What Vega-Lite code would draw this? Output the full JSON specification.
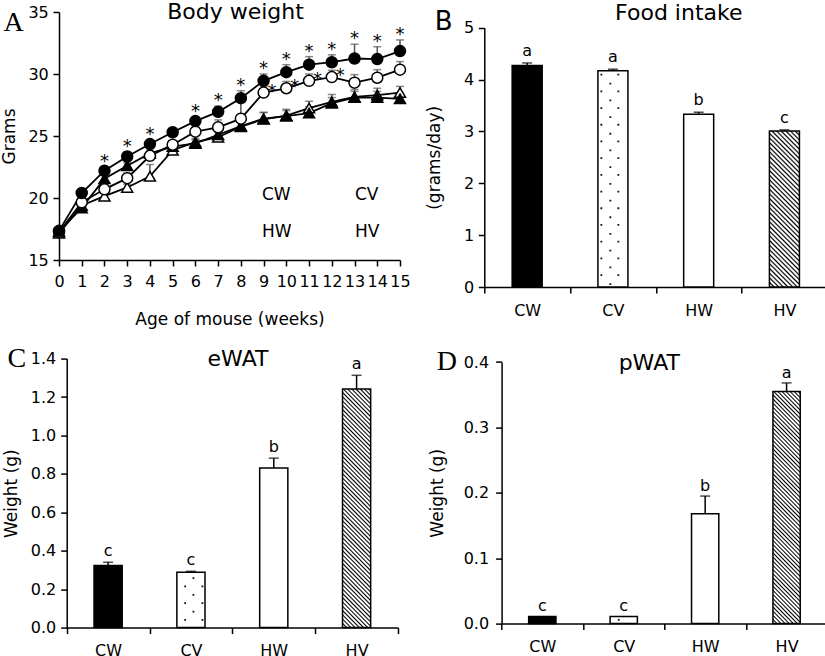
{
"$schema": "https://vega.github.io/schema/vega-lite/v6.json",
"background": "white",
"padding": {"left": 0, "top": 0, "right": 0, "bottom": 0},
"columns": 2,
"spacing": {"column": 14.3, "row": 16.6},
"concat": [
{
"width": 341, "height": 248,
"data": {"values": [
{"week":0,"group":"CW","value":17.15,"upper":17.4},{"week":0,"group":"CV","value":17.3,"upper":17.5},{"week":0,"group":"HW","value":17.25,"upper":17.5},{"week":0,"group":"HV","value":17.35,"upper":17.6},
{"week":1,"group":"CW","value":19.4,"upper":19.6},{"week":1,"group":"CV","value":19.2,"upper":19.4},{"week":1,"group":"HW","value":19.65,"upper":19.9},{"week":1,"group":"HV","value":20.4,"upper":20.65},
{"week":2,"group":"CW","value":20.15,"upper":20.4},{"week":2,"group":"CV","value":21.55,"upper":21.8},{"week":2,"group":"HW","value":20.7,"upper":21.0},{"week":2,"group":"HV","value":22.2,"upper":22.5,"star":1},
{"week":3,"group":"CW","value":20.85,"upper":21.1},{"week":3,"group":"CV","value":22.6,"upper":22.85},{"week":3,"group":"HW","value":21.6,"upper":22.0},{"week":3,"group":"HV","value":23.35,"upper":23.7,"star":1},
{"week":4,"group":"CW","value":21.75,"upper":22.7},{"week":4,"group":"CV","value":23.6,"upper":23.85},{"week":4,"group":"HW","value":23.4,"upper":23.7},{"week":4,"group":"HV","value":24.35,"upper":24.65,"star":1},
{"week":5,"group":"CW","value":23.85,"upper":24.1},{"week":5,"group":"CV","value":24.15,"upper":24.4},{"week":5,"group":"HW","value":24.3,"upper":24.6},{"week":5,"group":"HV","value":25.3,"upper":25.55},
{"week":6,"group":"CW","value":24.5,"upper":24.8},{"week":6,"group":"CV","value":24.4,"upper":24.7},{"week":6,"group":"HW","value":25.35,"upper":25.7},{"week":6,"group":"HV","value":26.2,"upper":26.5,"star":1},
{"week":7,"group":"CW","value":24.9,"upper":25.3},{"week":7,"group":"CV","value":25.1,"upper":25.4},{"week":7,"group":"HW","value":25.7,"upper":26.3},{"week":7,"group":"HV","value":26.95,"upper":27.4,"star":1},
{"week":8,"group":"CW","value":25.75,"upper":26.1},{"week":8,"group":"CV","value":25.8,"upper":26.1},{"week":8,"group":"HW","value":26.4,"upper":27.7},{"week":8,"group":"HV","value":28.05,"upper":28.65,"star":1},
{"week":9,"group":"CW","value":26.35,"upper":26.9},{"week":9,"group":"CV","value":26.4,"upper":26.9},{"week":9,"group":"HW","value":28.5,"upper":29.0,"star":1},{"week":9,"group":"HV","value":29.45,"upper":30.0,"star":1},
{"week":10,"group":"CW","value":26.65,"upper":27.15},{"week":10,"group":"CV","value":26.6,"upper":27.05},{"week":10,"group":"HW","value":28.85,"upper":29.4,"star":1},{"week":10,"group":"HV","value":30.15,"upper":30.75,"star":1},
{"week":11,"group":"CW","value":27.25,"upper":27.8},{"week":11,"group":"CV","value":26.85,"upper":27.35},{"week":11,"group":"HW","value":29.45,"upper":30.0,"star":1},{"week":11,"group":"HV","value":30.75,"upper":31.4,"star":1},
{"week":12,"group":"CW","value":27.75,"upper":28.35},{"week":12,"group":"CV","value":27.65,"upper":28.1},{"week":12,"group":"HW","value":29.75,"upper":30.3,"star":1},{"week":12,"group":"HV","value":30.95,"upper":31.55,"star":1},
{"week":13,"group":"CW","value":28.15,"upper":28.75},{"week":13,"group":"CV","value":28.1,"upper":28.6},{"week":13,"group":"HW","value":29.3,"upper":29.95},{"week":13,"group":"HV","value":31.25,"upper":32.4,"star":1},
{"week":14,"group":"CW","value":28.3,"upper":28.85},{"week":14,"group":"CV","value":28.1,"upper":28.6},{"week":14,"group":"HW","value":29.7,"upper":30.35},{"week":14,"group":"HV","value":31.2,"upper":32.2,"star":1},
{"week":15,"group":"CW","value":28.5,"upper":29.0},{"week":15,"group":"CV","value":28.0,"upper":28.4},{"week":15,"group":"HW","value":30.35,"upper":31.0},{"week":15,"group":"HV","value":31.85,"upper":32.75,"star":1}
]},
"layer": [
{"mark": {"type": "rule", "color": "#555", "strokeWidth": 1.5},
 "encoding": {
  "x": {"field": "week", "type": "quantitative", "scale": {"domain": [0, 15], "nice": false, "zero": false}, "axis": null},
  "y": {"field": "value", "type": "quantitative", "scale": {"domain": [15, 35], "nice": false, "zero": false}, "title": "Grams"},
  "y2": {"field": "upper"}}},
{"mark": {"type": "tick", "orient": "horizontal", "color": "#555", "size": 8, "thickness": 1.5},
 "encoding": {
  "x": {"field": "week", "type": "quantitative", "scale": {"domain": [0, 15], "nice": false, "zero": false}, "axis": null},
  "y": {"field": "upper", "type": "quantitative", "scale": {"domain": [15, 35], "nice": false, "zero": false}, "title": "Grams"}}},
{"mark": {"type": "line", "color": "black", "strokeWidth": 1.8},
 "encoding": {
  "x": {"field": "week", "type": "quantitative", "scale": {"domain": [0, 15], "nice": false, "zero": false}, "title": "Age of mouse (weeks)",
        "axis": {"values": [0,1,2,3,4,5,6,7,8,9,10,11,12,13,14,15], "tickCount": 20, "format": "d", "labelPadding": 7.5, "titlePadding": 21.5, "labelOverlap": false}},
  "y": {"field": "value", "type": "quantitative", "scale": {"domain": [15, 35], "nice": false, "zero": false}, "title": "Grams",
        "axis": {"values": [15, 20, 25, 30, 35], "tickCount": 10, "format": "d", "labelPadding": 4.7, "titlePadding": 9, "labelOverlap": false}},
  "detail": {"field": "group"}}},
{"mark": {"type": "point", "size": 121, "stroke": "black", "strokeWidth": 1.5, "opacity": 1},
 "encoding": {
  "x": {"field": "week", "type": "quantitative", "scale": {"domain": [0, 15], "nice": false, "zero": false}, "axis": null},
  "y": {"field": "value", "type": "quantitative", "scale": {"domain": [15, 35], "nice": false, "zero": false}, "title": "Grams"},
  "shape": {"field": "group", "type": "nominal", "scale": {"domain": ["CW","CV","HW","HV"], "range": ["triangle-up","triangle-up","circle","circle"]},
   "legend": {"orient": "bottom-right", "offset": 20, "columns": 2, "direction": "horizontal", "title": null, "symbolSize": 121, "symbolStrokeWidth": 1.5, "symbolStrokeColor": "black",
     "labelFontSize": 17, "labelFont": "DejaVu Sans", "labelColor": "black", "labelOffset": 22, "columnPadding": 24, "rowPadding": 19, "padding": 0,
     "encode": {"symbols": {
       "shape": {"condition": {"test": "datum.value === 'CW' || datum.value === 'CV'", "value": "M-3.9,0L-0.5,0M0.5,0L3.9,0M0,-0.866L-1,0.866L1,0.866Z"}, "value": "M-3.9,0L-1,0M1,0L3.9,0M-1,0A1,1,0,1,1,1,0A1,1,0,1,1,-1,0Z"},
       "fill": {"condition": {"test": "datum.value === 'CW' || datum.value === 'HW'", "value": "white"}, "value": "black"},
       "stroke": {"value": "black"}, "strokeWidth": {"value": 1.5}, "opacity": {"value": 1}}}}},
  "fill": {"condition": {"test": "datum.group === 'CV' || datum.group === 'HV'", "value": "black"}, "value": "white"}}},
{"transform": [{"filter": "datum.group === 'HV' && datum.star === 1"}],
 "mark": {"type": "text", "text": "*", "fontSize": 18, "baseline": "alphabetic", "dy": 0, "color": "black", "fill": "black"},
 "encoding": {
  "x": {"field": "week", "type": "quantitative", "scale": {"domain": [0, 15], "nice": false, "zero": false},
        "axis": {"orient": "top", "title": "A", "domain": false, "ticks": false, "labels": false, "titleFont": "Liberation Serif", "titleFontSize": 28, "titleFontWeight": "normal", "titleAngle": 0, "titleAlign": "left", "titleBaseline": "alphabetic", "titleX": -56, "titleY": 18}},
  "y": {"field": "upper", "type": "quantitative", "scale": {"domain": [15, 35], "nice": false, "zero": false}, "title": "Grams"}}},
{"transform": [{"filter": "datum.group === 'HW' && datum.star === 1"}],
 "mark": {"type": "text", "text": "*", "fontSize": 18, "baseline": "alphabetic", "dx": 8.5, "dy": 4, "color": "black", "fill": "black"},
 "encoding": {
  "x": {"field": "week", "type": "quantitative", "scale": {"domain": [0, 15], "nice": false, "zero": false},
        "axis": {"orient": "top", "title": "Body weight", "domain": false, "ticks": false, "labels": false, "titleFont": "DejaVu Sans", "titleFontSize": 22, "titleFontWeight": "normal", "titleAngle": 0, "titleAlign": "center", "titleBaseline": "alphabetic", "titleX": 176, "titleY": 6}},
  "y": {"field": "value", "type": "quantitative", "scale": {"domain": [15, 35], "nice": false, "zero": false}, "title": "Grams"}}}
],
"resolve": {"axis": {"x": "independent"}}
},
{
"width": 343, "height": 275,
"data": {"values": [
{"group":"CW","value":4.27,"upper":4.32,"sig":"a"},
{"group":"CV","value":4.17,"upper":4.2,"sig":"a"},
{"group":"HW","value":3.33,"upper":3.37,"sig":"b"},
{"group":"HV","value":3.01,"upper":3.03,"sig":"c"}
]},
"layer": [
{"mark": {"type": "bar", "width": {"band": 0.35}, "stroke": "black", "strokeWidth": 1.5},
 "encoding": {
  "x": {"field": "group", "type": "nominal", "scale": {"domain": ["CW","CV","HW","HV"], "paddingInner": 0, "paddingOuter": 0},
        "axis": {"title": null, "tickBand": "extent", "labelAngle": 0, "labelPadding": 9, "labelOverlap": false}},
  "y": {"field": "value", "type": "quantitative", "scale": {"domain": [0, 5], "range": [275, 15.7], "nice": false}, "title": "(grams/day)",
        "axis": {"values": [0,1,2,3,4,5], "tickCount": 10, "format": "d", "labelPadding": 4.7, "titlePadding": 20, "labelOverlap": false}},
  "fill": {"condition": [
    {"test": "datum.group === 'CW'", "value": "black"},
    {"test": "datum.group === 'HV'", "value": {"gradient": "linear", "x1": 0, "y1": 1, "x2": 0.2219, "y2": -0.1516, "stops": [
{"offset":0,"color":"#000"},{"offset":0.009,"color":"#fff"},{"offset":0.016,"color":"#fff"},
{"offset":0.025,"color":"#000"},{"offset":0.034,"color":"#fff"},{"offset":0.041,"color":"#fff"},
{"offset":0.05,"color":"#000"},{"offset":0.059,"color":"#fff"},{"offset":0.066,"color":"#fff"},
{"offset":0.075,"color":"#000"},{"offset":0.084,"color":"#fff"},{"offset":0.091,"color":"#fff"},
{"offset":0.1,"color":"#000"},{"offset":0.109,"color":"#fff"},{"offset":0.116,"color":"#fff"},
{"offset":0.125,"color":"#000"},{"offset":0.134,"color":"#fff"},{"offset":0.141,"color":"#fff"},
{"offset":0.15,"color":"#000"},{"offset":0.159,"color":"#fff"},{"offset":0.166,"color":"#fff"},
{"offset":0.175,"color":"#000"},{"offset":0.184,"color":"#fff"},{"offset":0.191,"color":"#fff"},
{"offset":0.2,"color":"#000"},{"offset":0.209,"color":"#fff"},{"offset":0.216,"color":"#fff"},
{"offset":0.225,"color":"#000"},{"offset":0.234,"color":"#fff"},{"offset":0.241,"color":"#fff"},
{"offset":0.25,"color":"#000"},{"offset":0.259,"color":"#fff"},{"offset":0.266,"color":"#fff"},
{"offset":0.275,"color":"#000"},{"offset":0.284,"color":"#fff"},{"offset":0.291,"color":"#fff"},
{"offset":0.3,"color":"#000"},{"offset":0.309,"color":"#fff"},{"offset":0.316,"color":"#fff"},
{"offset":0.325,"color":"#000"},{"offset":0.334,"color":"#fff"},{"offset":0.341,"color":"#fff"},
{"offset":0.35,"color":"#000"},{"offset":0.359,"color":"#fff"},{"offset":0.366,"color":"#fff"},
{"offset":0.375,"color":"#000"},{"offset":0.384,"color":"#fff"},{"offset":0.391,"color":"#fff"},
{"offset":0.4,"color":"#000"},{"offset":0.409,"color":"#fff"},{"offset":0.416,"color":"#fff"},
{"offset":0.425,"color":"#000"},{"offset":0.434,"color":"#fff"},{"offset":0.441,"color":"#fff"},
{"offset":0.45,"color":"#000"},{"offset":0.459,"color":"#fff"},{"offset":0.466,"color":"#fff"},
{"offset":0.475,"color":"#000"},{"offset":0.484,"color":"#fff"},{"offset":0.491,"color":"#fff"},
{"offset":0.5,"color":"#000"},{"offset":0.509,"color":"#fff"},{"offset":0.516,"color":"#fff"},
{"offset":0.525,"color":"#000"},{"offset":0.534,"color":"#fff"},{"offset":0.541,"color":"#fff"},
{"offset":0.55,"color":"#000"},{"offset":0.559,"color":"#fff"},{"offset":0.566,"color":"#fff"},
{"offset":0.575,"color":"#000"},{"offset":0.584,"color":"#fff"},{"offset":0.591,"color":"#fff"},
{"offset":0.6,"color":"#000"},{"offset":0.609,"color":"#fff"},{"offset":0.616,"color":"#fff"},
{"offset":0.625,"color":"#000"},{"offset":0.634,"color":"#fff"},{"offset":0.641,"color":"#fff"},
{"offset":0.65,"color":"#000"},{"offset":0.659,"color":"#fff"},{"offset":0.666,"color":"#fff"},
{"offset":0.675,"color":"#000"},{"offset":0.684,"color":"#fff"},{"offset":0.691,"color":"#fff"},
{"offset":0.7,"color":"#000"},{"offset":0.709,"color":"#fff"},{"offset":0.716,"color":"#fff"},
{"offset":0.725,"color":"#000"},{"offset":0.734,"color":"#fff"},{"offset":0.741,"color":"#fff"},
{"offset":0.75,"color":"#000"},{"offset":0.759,"color":"#fff"},{"offset":0.766,"color":"#fff"},
{"offset":0.775,"color":"#000"},{"offset":0.784,"color":"#fff"},{"offset":0.791,"color":"#fff"},
{"offset":0.8,"color":"#000"},{"offset":0.809,"color":"#fff"},{"offset":0.816,"color":"#fff"},
{"offset":0.825,"color":"#000"},{"offset":0.834,"color":"#fff"},{"offset":0.841,"color":"#fff"},
{"offset":0.85,"color":"#000"},{"offset":0.859,"color":"#fff"},{"offset":0.866,"color":"#fff"},
{"offset":0.875,"color":"#000"},{"offset":0.884,"color":"#fff"},{"offset":0.891,"color":"#fff"},
{"offset":0.9,"color":"#000"},{"offset":0.909,"color":"#fff"},{"offset":0.916,"color":"#fff"},
{"offset":0.925,"color":"#000"},{"offset":0.934,"color":"#fff"},{"offset":0.941,"color":"#fff"},
{"offset":0.95,"color":"#000"},{"offset":0.959,"color":"#fff"},{"offset":0.966,"color":"#fff"},
{"offset":0.975,"color":"#000"},{"offset":0.984,"color":"#fff"},{"offset":0.991,"color":"#fff"},
{"offset":1,"color":"#000"}]}}],
   "value": "white"}}},
{"transform": [{"filter": "datum.group === 'CV'"}],
 "mark": {"type": "rule", "color": "#111", "strokeWidth": 1.8, "strokeDash": [1.8, 14.9], "strokeDashOffset": 13.7, "xOffset": -11.6},
 "encoding": {
  "x": {"field": "group", "type": "nominal", "scale": {"domain": ["CW","CV","HW","HV"], "paddingInner": 0, "paddingOuter": 0}, "axis": null},
  "y": {"field": "value", "type": "quantitative", "scale": {"domain": [0, 5], "range": [275, 15.7], "nice": false}, "title": "(grams/day)"},
  "y2": {"datum": 0}}},
{"transform": [{"filter": "datum.group === 'CV'"}],
 "mark": {"type": "rule", "color": "#111", "strokeWidth": 1.8, "strokeDash": [1.8, 14.9], "strokeDashOffset": 13.7, "xOffset": 5.4},
 "encoding": {
  "x": {"field": "group", "type": "nominal", "scale": {"domain": ["CW","CV","HW","HV"], "paddingInner": 0, "paddingOuter": 0}, "axis": null},
  "y": {"field": "value", "type": "quantitative", "scale": {"domain": [0, 5], "range": [275, 15.7], "nice": false}, "title": "(grams/day)"},
  "y2": {"datum": 0}}},
{"transform": [{"filter": "datum.group === 'CV'"}],
 "mark": {"type": "rule", "color": "#111", "strokeWidth": 1.8, "strokeDash": [1.8, 14.9], "strokeDashOffset": 4.7, "xOffset": -2.6},
 "encoding": {
  "x": {"field": "group", "type": "nominal", "scale": {"domain": ["CW","CV","HW","HV"], "paddingInner": 0, "paddingOuter": 0}, "axis": null},
  "y": {"field": "value", "type": "quantitative", "scale": {"domain": [0, 5], "range": [275, 15.7], "nice": false}, "title": "(grams/day)"},
  "y2": {"datum": 0}}},
{"mark": {"type": "rule", "color": "black", "strokeWidth": 1.5},
 "encoding": {
  "x": {"field": "group", "type": "nominal", "scale": {"domain": ["CW","CV","HW","HV"], "paddingInner": 0, "paddingOuter": 0}, "axis": null},
  "y": {"field": "value", "type": "quantitative", "scale": {"domain": [0, 5], "range": [275, 15.7], "nice": false}, "title": "(grams/day)"},
  "y2": {"field": "upper"}}},
{"mark": {"type": "tick", "orient": "horizontal", "color": "black", "size": 10, "thickness": 1.5},
 "encoding": {
  "x": {"field": "group", "type": "nominal", "scale": {"domain": ["CW","CV","HW","HV"], "paddingInner": 0, "paddingOuter": 0},
        "axis": {"orient": "top", "title": "Food intake", "domain": false, "ticks": false, "labels": false, "titleFont": "DejaVu Sans", "titleFontSize": 22, "titleFontWeight": "normal", "titleAngle": 0, "titleAlign": "center", "titleBaseline": "alphabetic", "titleX": 194, "titleY": 7.3}},
  "y": {"field": "upper", "type": "quantitative", "scale": {"domain": [0, 5], "range": [275, 15.7], "nice": false}, "title": "(grams/day)"}}},
{"mark": {"type": "text", "fontSize": 16, "baseline": "alphabetic", "dy": -7, "color": "black"},
 "encoding": {
  "x": {"field": "group", "type": "nominal", "scale": {"domain": ["CW","CV","HW","HV"], "paddingInner": 0, "paddingOuter": 0},
        "axis": {"orient": "top", "title": "B", "domain": false, "ticks": false, "labels": false, "titleFont": "DejaVu Sans", "titleFontSize": 26, "titleFontWeight": "normal", "titleAngle": 0, "titleAlign": "left", "titleBaseline": "alphabetic", "titleX": -50, "titleY": 17}},
  "y": {"field": "upper", "type": "quantitative", "scale": {"domain": [0, 5], "range": [275, 15.7], "nice": false}, "title": "(grams/day)"},
  "text": {"field": "sig"}}}
],
"resolve": {"axis": {"x": "independent"}}
},
{
"width": 339, "height": 269,
"data": {"values": [
{"group":"CW","value":0.323,"upper":0.34,"sig":"c"},
{"group":"CV","value":0.288,"upper":0.293,"sig":"c"},
{"group":"HW","value":0.83,"upper":0.882,"sig":"b"},
{"group":"HV","value":1.242,"upper":1.313,"sig":"a"}
]},
"layer": [
{"mark": {"type": "bar", "width": {"band": 0.34}, "stroke": "black", "strokeWidth": 1.5},
 "encoding": {
  "x": {"field": "group", "type": "nominal", "scale": {"domain": ["CW","CV","HW","HV"], "range": [7.7, 339], "paddingInner": 0, "paddingOuter": 0},
        "axis": {"title": null, "tickBand": "extent", "labelAngle": 0, "labelPadding": 9, "labelOverlap": false}},
  "y": {"field": "value", "type": "quantitative", "scale": {"domain": [0, 1.4], "nice": false}, "title": "Weight (g)",
        "axis": {"values": [0,0.2,0.4,0.6,0.8,1.0,1.2,1.4], "tickCount": 10, "format": ".1f", "offset": -7.7, "labelPadding": 5, "titlePadding": 10, "labelOverlap": false}},
  "fill": {"condition": [
    {"test": "datum.group === 'CW'", "value": "black"},
    {"test": "datum.group === 'HV'", "value": {"gradient": "linear", "x1": 0, "y1": 1, "x2": 0.1322, "y2": -0.104, "stops": [
{"offset":0,"color":"#000"},{"offset":0.0056,"color":"#fff"},{"offset":0.0104,"color":"#fff"},
{"offset":0.016,"color":"#000"},{"offset":0.0216,"color":"#fff"},{"offset":0.0264,"color":"#fff"},
{"offset":0.032,"color":"#000"},{"offset":0.0376,"color":"#fff"},{"offset":0.0424,"color":"#fff"},
{"offset":0.048,"color":"#000"},{"offset":0.0536,"color":"#fff"},{"offset":0.0584,"color":"#fff"},
{"offset":0.064,"color":"#000"},{"offset":0.0696,"color":"#fff"},{"offset":0.0744,"color":"#fff"},
{"offset":0.08,"color":"#000"},{"offset":0.0856,"color":"#fff"},{"offset":0.0904,"color":"#fff"},
{"offset":0.096,"color":"#000"},{"offset":0.1016,"color":"#fff"},{"offset":0.1064,"color":"#fff"},
{"offset":0.112,"color":"#000"},{"offset":0.1176,"color":"#fff"},{"offset":0.1224,"color":"#fff"},
{"offset":0.128,"color":"#000"},{"offset":0.1336,"color":"#fff"},{"offset":0.1384,"color":"#fff"},
{"offset":0.144,"color":"#000"},{"offset":0.1496,"color":"#fff"},{"offset":0.1544,"color":"#fff"},
{"offset":0.16,"color":"#000"},{"offset":0.1656,"color":"#fff"},{"offset":0.1704,"color":"#fff"},
{"offset":0.176,"color":"#000"},{"offset":0.1816,"color":"#fff"},{"offset":0.1864,"color":"#fff"},
{"offset":0.192,"color":"#000"},{"offset":0.1976,"color":"#fff"},{"offset":0.2024,"color":"#fff"},
{"offset":0.208,"color":"#000"},{"offset":0.2136,"color":"#fff"},{"offset":0.2184,"color":"#fff"},
{"offset":0.224,"color":"#000"},{"offset":0.2296,"color":"#fff"},{"offset":0.2344,"color":"#fff"},
{"offset":0.24,"color":"#000"},{"offset":0.2456,"color":"#fff"},{"offset":0.2504,"color":"#fff"},
{"offset":0.256,"color":"#000"},{"offset":0.2616,"color":"#fff"},{"offset":0.2664,"color":"#fff"},
{"offset":0.272,"color":"#000"},{"offset":0.2776,"color":"#fff"},{"offset":0.2824,"color":"#fff"},
{"offset":0.288,"color":"#000"},{"offset":0.2936,"color":"#fff"},{"offset":0.2984,"color":"#fff"},
{"offset":0.304,"color":"#000"},{"offset":0.3096,"color":"#fff"},{"offset":0.3144,"color":"#fff"},
{"offset":0.32,"color":"#000"},{"offset":0.3256,"color":"#fff"},{"offset":0.3304,"color":"#fff"},
{"offset":0.336,"color":"#000"},{"offset":0.3416,"color":"#fff"},{"offset":0.3464,"color":"#fff"},
{"offset":0.352,"color":"#000"},{"offset":0.3576,"color":"#fff"},{"offset":0.3624,"color":"#fff"},
{"offset":0.368,"color":"#000"},{"offset":0.3736,"color":"#fff"},{"offset":0.3784,"color":"#fff"},
{"offset":0.384,"color":"#000"},{"offset":0.3896,"color":"#fff"},{"offset":0.3944,"color":"#fff"},
{"offset":0.4,"color":"#000"},{"offset":0.4056,"color":"#fff"},{"offset":0.4104,"color":"#fff"},
{"offset":0.416,"color":"#000"},{"offset":0.4216,"color":"#fff"},{"offset":0.4264,"color":"#fff"},
{"offset":0.432,"color":"#000"},{"offset":0.4376,"color":"#fff"},{"offset":0.4424,"color":"#fff"},
{"offset":0.448,"color":"#000"},{"offset":0.4536,"color":"#fff"},{"offset":0.4584,"color":"#fff"},
{"offset":0.464,"color":"#000"},{"offset":0.4696,"color":"#fff"},{"offset":0.4744,"color":"#fff"},
{"offset":0.48,"color":"#000"},{"offset":0.4856,"color":"#fff"},{"offset":0.4904,"color":"#fff"},
{"offset":0.496,"color":"#000"},{"offset":0.5016,"color":"#fff"},{"offset":0.5064,"color":"#fff"},
{"offset":0.512,"color":"#000"},{"offset":0.5176,"color":"#fff"},{"offset":0.5224,"color":"#fff"},
{"offset":0.528,"color":"#000"},{"offset":0.5336,"color":"#fff"},{"offset":0.5384,"color":"#fff"},
{"offset":0.544,"color":"#000"},{"offset":0.5496,"color":"#fff"},{"offset":0.5544,"color":"#fff"},
{"offset":0.56,"color":"#000"},{"offset":0.5656,"color":"#fff"},{"offset":0.5704,"color":"#fff"},
{"offset":0.576,"color":"#000"},{"offset":0.5816,"color":"#fff"},{"offset":0.5864,"color":"#fff"},
{"offset":0.592,"color":"#000"},{"offset":0.5976,"color":"#fff"},{"offset":0.6024,"color":"#fff"},
{"offset":0.608,"color":"#000"},{"offset":0.6136,"color":"#fff"},{"offset":0.6184,"color":"#fff"},
{"offset":0.624,"color":"#000"},{"offset":0.6296,"color":"#fff"},{"offset":0.6344,"color":"#fff"},
{"offset":0.64,"color":"#000"},{"offset":0.6456,"color":"#fff"},{"offset":0.6504,"color":"#fff"},
{"offset":0.656,"color":"#000"},{"offset":0.6616,"color":"#fff"},{"offset":0.6664,"color":"#fff"},
{"offset":0.672,"color":"#000"},{"offset":0.6776,"color":"#fff"},{"offset":0.6824,"color":"#fff"},
{"offset":0.688,"color":"#000"},{"offset":0.6936,"color":"#fff"},{"offset":0.6984,"color":"#fff"},
{"offset":0.704,"color":"#000"},{"offset":0.7096,"color":"#fff"},{"offset":0.7144,"color":"#fff"},
{"offset":0.72,"color":"#000"},{"offset":0.7256,"color":"#fff"},{"offset":0.7304,"color":"#fff"},
{"offset":0.736,"color":"#000"},{"offset":0.7416,"color":"#fff"},{"offset":0.7464,"color":"#fff"},
{"offset":0.752,"color":"#000"},{"offset":0.7576,"color":"#fff"},{"offset":0.7624,"color":"#fff"},
{"offset":0.768,"color":"#000"},{"offset":0.7736,"color":"#fff"},{"offset":0.7784,"color":"#fff"},
{"offset":0.784,"color":"#000"},{"offset":0.7896,"color":"#fff"},{"offset":0.7944,"color":"#fff"},
{"offset":0.8,"color":"#000"},{"offset":0.8056,"color":"#fff"},{"offset":0.8104,"color":"#fff"},
{"offset":0.816,"color":"#000"},{"offset":0.8216,"color":"#fff"},{"offset":0.8264,"color":"#fff"},
{"offset":0.832,"color":"#000"},{"offset":0.8376,"color":"#fff"},{"offset":0.8424,"color":"#fff"},
{"offset":0.848,"color":"#000"},{"offset":0.8536,"color":"#fff"},{"offset":0.8584,"color":"#fff"},
{"offset":0.864,"color":"#000"},{"offset":0.8696,"color":"#fff"},{"offset":0.8744,"color":"#fff"},
{"offset":0.88,"color":"#000"},{"offset":0.8856,"color":"#fff"},{"offset":0.8904,"color":"#fff"},
{"offset":0.896,"color":"#000"},{"offset":0.9016,"color":"#fff"},{"offset":0.9064,"color":"#fff"},
{"offset":0.912,"color":"#000"},{"offset":0.9176,"color":"#fff"},{"offset":0.9224,"color":"#fff"},
{"offset":0.928,"color":"#000"},{"offset":0.9336,"color":"#fff"},{"offset":0.9384,"color":"#fff"},
{"offset":0.944,"color":"#000"},{"offset":0.9496,"color":"#fff"},{"offset":0.9544,"color":"#fff"},
{"offset":0.96,"color":"#000"},{"offset":0.9656,"color":"#fff"},{"offset":0.9704,"color":"#fff"},
{"offset":0.976,"color":"#000"},{"offset":0.9816,"color":"#fff"},{"offset":0.9864,"color":"#fff"},
{"offset":0.992,"color":"#000"},{"offset":0.9976,"color":"#fff"}]}}],
   "value": "white"}}},
{"transform": [{"filter": "datum.group === 'CV'"}],
 "mark": {"type": "rule", "color": "#111", "strokeWidth": 1.8, "strokeDash": [1.8, 14.9], "strokeDashOffset": 11.7, "xOffset": 2.5},
 "encoding": {
  "x": {"field": "group", "type": "nominal", "scale": {"domain": ["CW","CV","HW","HV"], "range": [7.7, 339], "paddingInner": 0, "paddingOuter": 0}, "axis": null},
  "y": {"field": "value", "type": "quantitative", "scale": {"domain": [0, 1.4], "nice": false}, "title": "Weight (g)"},
  "y2": {"datum": 0}}},
{"transform": [{"filter": "datum.group === 'CV'"}],
 "mark": {"type": "rule", "color": "#111", "strokeWidth": 1.8, "strokeDash": [1.8, 14.9], "strokeDashOffset": 3.4, "xOffset": -5.8},
 "encoding": {
  "x": {"field": "group", "type": "nominal", "scale": {"domain": ["CW","CV","HW","HV"], "range": [7.7, 339], "paddingInner": 0, "paddingOuter": 0}, "axis": null},
  "y": {"field": "value", "type": "quantitative", "scale": {"domain": [0, 1.4], "nice": false}, "title": "Weight (g)"},
  "y2": {"datum": 0}}},
{"transform": [{"filter": "datum.group === 'CV'"}],
 "mark": {"type": "rule", "color": "#111", "strokeWidth": 1.8, "strokeDash": [1.8, 14.9], "strokeDashOffset": 3.4, "xOffset": 11.5},
 "encoding": {
  "x": {"field": "group", "type": "nominal", "scale": {"domain": ["CW","CV","HW","HV"], "range": [7.7, 339], "paddingInner": 0, "paddingOuter": 0}, "axis": null},
  "y": {"field": "value", "type": "quantitative", "scale": {"domain": [0, 1.4], "nice": false}, "title": "Weight (g)"},
  "y2": {"datum": 0}}},
{"mark": {"type": "rule", "color": "black", "strokeWidth": 1.5},
 "encoding": {
  "x": {"field": "group", "type": "nominal", "scale": {"domain": ["CW","CV","HW","HV"], "range": [7.7, 339], "paddingInner": 0, "paddingOuter": 0}, "axis": null},
  "y": {"field": "value", "type": "quantitative", "scale": {"domain": [0, 1.4], "nice": false}, "title": "Weight (g)"},
  "y2": {"field": "upper"}}},
{"mark": {"type": "tick", "orient": "horizontal", "color": "black", "size": 10, "thickness": 1.5},
 "encoding": {
  "x": {"field": "group", "type": "nominal", "scale": {"domain": ["CW","CV","HW","HV"], "range": [7.7, 339], "paddingInner": 0, "paddingOuter": 0},
        "axis": {"orient": "top", "title": "eWAT", "domain": false, "ticks": false, "labels": false, "titleFont": "DejaVu Sans", "titleFontSize": 22, "titleFontWeight": "normal", "titleAngle": 0, "titleAlign": "center", "titleBaseline": "alphabetic", "titleX": 178.5, "titleY": 7}},
  "y": {"field": "upper", "type": "quantitative", "scale": {"domain": [0, 1.4], "nice": false}, "title": "Weight (g)"}}},
{"mark": {"type": "text", "fontSize": 16, "baseline": "alphabetic", "dy": -6, "color": "black"},
 "encoding": {
  "x": {"field": "group", "type": "nominal", "scale": {"domain": ["CW","CV","HW","HV"], "range": [7.7, 339], "paddingInner": 0, "paddingOuter": 0},
        "axis": {"orient": "top", "title": "C", "domain": false, "ticks": false, "labels": false, "titleFont": "Liberation Serif", "titleFontSize": 28, "titleFontWeight": "normal", "titleAngle": 0, "titleAlign": "left", "titleBaseline": "alphabetic", "titleX": -52, "titleY": 7.7}},
  "y": {"field": "upper", "type": "quantitative", "scale": {"domain": [0, 1.4], "nice": false}, "title": "Weight (g)"},
  "text": {"field": "sig"}}}
],
"resolve": {"axis": {"x": "independent"}}
},
{
"width": 343, "height": 265,
"data": {"values": [
{"group":"CW","value":0.011,"upper":0.011,"sig":"c"},
{"group":"CV","value":0.011,"upper":0.011,"sig":"c"},
{"group":"HW","value":0.168,"upper":0.195,"sig":"b"},
{"group":"HV","value":0.355,"upper":0.368,"sig":"a"}
]},
"layer": [
{"mark": {"type": "bar", "width": {"band": 0.335}, "stroke": "black", "strokeWidth": 1.5},
 "encoding": {
  "x": {"field": "group", "type": "nominal", "scale": {"domain": ["CW","CV","HW","HV"], "range": [17.3, 343], "paddingInner": 0, "paddingOuter": 0},
        "axis": {"title": null, "tickBand": "extent", "labelAngle": 0, "labelPadding": 9, "labelOverlap": false}},
  "y": {"field": "value", "type": "quantitative", "scale": {"domain": [0, 0.4], "range": [265, 3.4], "nice": false}, "title": "Weight (g)",
        "axis": {"values": [0,0.1,0.2,0.3,0.4], "tickCount": 10, "format": ".1f", "offset": -17.3, "labelPadding": 7, "titlePadding": 17, "labelOverlap": false}},
  "fill": {"condition": [
    {"test": "datum.group === 'CW'", "value": "black"},
    {"test": "datum.group === 'HV'", "value": {"gradient": "linear", "x1": 0, "y1": 1, "x2": 0.1322, "y2": -0.104, "stops": [
{"offset":0,"color":"#000"},{"offset":0.0056,"color":"#fff"},{"offset":0.0104,"color":"#fff"},
{"offset":0.016,"color":"#000"},{"offset":0.0216,"color":"#fff"},{"offset":0.0264,"color":"#fff"},
{"offset":0.032,"color":"#000"},{"offset":0.0376,"color":"#fff"},{"offset":0.0424,"color":"#fff"},
{"offset":0.048,"color":"#000"},{"offset":0.0536,"color":"#fff"},{"offset":0.0584,"color":"#fff"},
{"offset":0.064,"color":"#000"},{"offset":0.0696,"color":"#fff"},{"offset":0.0744,"color":"#fff"},
{"offset":0.08,"color":"#000"},{"offset":0.0856,"color":"#fff"},{"offset":0.0904,"color":"#fff"},
{"offset":0.096,"color":"#000"},{"offset":0.1016,"color":"#fff"},{"offset":0.1064,"color":"#fff"},
{"offset":0.112,"color":"#000"},{"offset":0.1176,"color":"#fff"},{"offset":0.1224,"color":"#fff"},
{"offset":0.128,"color":"#000"},{"offset":0.1336,"color":"#fff"},{"offset":0.1384,"color":"#fff"},
{"offset":0.144,"color":"#000"},{"offset":0.1496,"color":"#fff"},{"offset":0.1544,"color":"#fff"},
{"offset":0.16,"color":"#000"},{"offset":0.1656,"color":"#fff"},{"offset":0.1704,"color":"#fff"},
{"offset":0.176,"color":"#000"},{"offset":0.1816,"color":"#fff"},{"offset":0.1864,"color":"#fff"},
{"offset":0.192,"color":"#000"},{"offset":0.1976,"color":"#fff"},{"offset":0.2024,"color":"#fff"},
{"offset":0.208,"color":"#000"},{"offset":0.2136,"color":"#fff"},{"offset":0.2184,"color":"#fff"},
{"offset":0.224,"color":"#000"},{"offset":0.2296,"color":"#fff"},{"offset":0.2344,"color":"#fff"},
{"offset":0.24,"color":"#000"},{"offset":0.2456,"color":"#fff"},{"offset":0.2504,"color":"#fff"},
{"offset":0.256,"color":"#000"},{"offset":0.2616,"color":"#fff"},{"offset":0.2664,"color":"#fff"},
{"offset":0.272,"color":"#000"},{"offset":0.2776,"color":"#fff"},{"offset":0.2824,"color":"#fff"},
{"offset":0.288,"color":"#000"},{"offset":0.2936,"color":"#fff"},{"offset":0.2984,"color":"#fff"},
{"offset":0.304,"color":"#000"},{"offset":0.3096,"color":"#fff"},{"offset":0.3144,"color":"#fff"},
{"offset":0.32,"color":"#000"},{"offset":0.3256,"color":"#fff"},{"offset":0.3304,"color":"#fff"},
{"offset":0.336,"color":"#000"},{"offset":0.3416,"color":"#fff"},{"offset":0.3464,"color":"#fff"},
{"offset":0.352,"color":"#000"},{"offset":0.3576,"color":"#fff"},{"offset":0.3624,"color":"#fff"},
{"offset":0.368,"color":"#000"},{"offset":0.3736,"color":"#fff"},{"offset":0.3784,"color":"#fff"},
{"offset":0.384,"color":"#000"},{"offset":0.3896,"color":"#fff"},{"offset":0.3944,"color":"#fff"},
{"offset":0.4,"color":"#000"},{"offset":0.4056,"color":"#fff"},{"offset":0.4104,"color":"#fff"},
{"offset":0.416,"color":"#000"},{"offset":0.4216,"color":"#fff"},{"offset":0.4264,"color":"#fff"},
{"offset":0.432,"color":"#000"},{"offset":0.4376,"color":"#fff"},{"offset":0.4424,"color":"#fff"},
{"offset":0.448,"color":"#000"},{"offset":0.4536,"color":"#fff"},{"offset":0.4584,"color":"#fff"},
{"offset":0.464,"color":"#000"},{"offset":0.4696,"color":"#fff"},{"offset":0.4744,"color":"#fff"},
{"offset":0.48,"color":"#000"},{"offset":0.4856,"color":"#fff"},{"offset":0.4904,"color":"#fff"},
{"offset":0.496,"color":"#000"},{"offset":0.5016,"color":"#fff"},{"offset":0.5064,"color":"#fff"},
{"offset":0.512,"color":"#000"},{"offset":0.5176,"color":"#fff"},{"offset":0.5224,"color":"#fff"},
{"offset":0.528,"color":"#000"},{"offset":0.5336,"color":"#fff"},{"offset":0.5384,"color":"#fff"},
{"offset":0.544,"color":"#000"},{"offset":0.5496,"color":"#fff"},{"offset":0.5544,"color":"#fff"},
{"offset":0.56,"color":"#000"},{"offset":0.5656,"color":"#fff"},{"offset":0.5704,"color":"#fff"},
{"offset":0.576,"color":"#000"},{"offset":0.5816,"color":"#fff"},{"offset":0.5864,"color":"#fff"},
{"offset":0.592,"color":"#000"},{"offset":0.5976,"color":"#fff"},{"offset":0.6024,"color":"#fff"},
{"offset":0.608,"color":"#000"},{"offset":0.6136,"color":"#fff"},{"offset":0.6184,"color":"#fff"},
{"offset":0.624,"color":"#000"},{"offset":0.6296,"color":"#fff"},{"offset":0.6344,"color":"#fff"},
{"offset":0.64,"color":"#000"},{"offset":0.6456,"color":"#fff"},{"offset":0.6504,"color":"#fff"},
{"offset":0.656,"color":"#000"},{"offset":0.6616,"color":"#fff"},{"offset":0.6664,"color":"#fff"},
{"offset":0.672,"color":"#000"},{"offset":0.6776,"color":"#fff"},{"offset":0.6824,"color":"#fff"},
{"offset":0.688,"color":"#000"},{"offset":0.6936,"color":"#fff"},{"offset":0.6984,"color":"#fff"},
{"offset":0.704,"color":"#000"},{"offset":0.7096,"color":"#fff"},{"offset":0.7144,"color":"#fff"},
{"offset":0.72,"color":"#000"},{"offset":0.7256,"color":"#fff"},{"offset":0.7304,"color":"#fff"},
{"offset":0.736,"color":"#000"},{"offset":0.7416,"color":"#fff"},{"offset":0.7464,"color":"#fff"},
{"offset":0.752,"color":"#000"},{"offset":0.7576,"color":"#fff"},{"offset":0.7624,"color":"#fff"},
{"offset":0.768,"color":"#000"},{"offset":0.7736,"color":"#fff"},{"offset":0.7784,"color":"#fff"},
{"offset":0.784,"color":"#000"},{"offset":0.7896,"color":"#fff"},{"offset":0.7944,"color":"#fff"},
{"offset":0.8,"color":"#000"},{"offset":0.8056,"color":"#fff"},{"offset":0.8104,"color":"#fff"},
{"offset":0.816,"color":"#000"},{"offset":0.8216,"color":"#fff"},{"offset":0.8264,"color":"#fff"},
{"offset":0.832,"color":"#000"},{"offset":0.8376,"color":"#fff"},{"offset":0.8424,"color":"#fff"},
{"offset":0.848,"color":"#000"},{"offset":0.8536,"color":"#fff"},{"offset":0.8584,"color":"#fff"},
{"offset":0.864,"color":"#000"},{"offset":0.8696,"color":"#fff"},{"offset":0.8744,"color":"#fff"},
{"offset":0.88,"color":"#000"},{"offset":0.8856,"color":"#fff"},{"offset":0.8904,"color":"#fff"},
{"offset":0.896,"color":"#000"},{"offset":0.9016,"color":"#fff"},{"offset":0.9064,"color":"#fff"},
{"offset":0.912,"color":"#000"},{"offset":0.9176,"color":"#fff"},{"offset":0.9224,"color":"#fff"},
{"offset":0.928,"color":"#000"},{"offset":0.9336,"color":"#fff"},{"offset":0.9384,"color":"#fff"},
{"offset":0.944,"color":"#000"},{"offset":0.9496,"color":"#fff"},{"offset":0.9544,"color":"#fff"},
{"offset":0.96,"color":"#000"},{"offset":0.9656,"color":"#fff"},{"offset":0.9704,"color":"#fff"},
{"offset":0.976,"color":"#000"},{"offset":0.9816,"color":"#fff"},{"offset":0.9864,"color":"#fff"},
{"offset":0.992,"color":"#000"},{"offset":0.9976,"color":"#fff"}]}}],
   "value": "white"}}},
{"transform": [{"filter": "datum.group === 'CV'"}],
 "mark": {"type": "rule", "color": "#111", "strokeWidth": 1.8, "strokeDash": [1.8, 14.9], "strokeDashOffset": 14.2, "xOffset": -5},
 "encoding": {
  "x": {"field": "group", "type": "nominal", "scale": {"domain": ["CW","CV","HW","HV"], "range": [17.3, 343], "paddingInner": 0, "paddingOuter": 0}, "axis": null},
  "y": {"field": "value", "type": "quantitative", "scale": {"domain": [0, 0.4], "range": [265, 3.4], "nice": false}, "title": "Weight (g)"},
  "y2": {"datum": 0}}},
{"mark": {"type": "rule", "color": "black", "strokeWidth": 1.5},
 "encoding": {
  "x": {"field": "group", "type": "nominal", "scale": {"domain": ["CW","CV","HW","HV"], "range": [17.3, 343], "paddingInner": 0, "paddingOuter": 0}, "axis": null},
  "y": {"field": "value", "type": "quantitative", "scale": {"domain": [0, 0.4], "range": [265, 3.4], "nice": false}, "title": "Weight (g)"},
  "y2": {"field": "upper"}}},
{"transform": [{"filter": "datum.upper > datum.value"}],
 "mark": {"type": "tick", "orient": "horizontal", "color": "black", "size": 10, "thickness": 1.5},
 "encoding": {
  "x": {"field": "group", "type": "nominal", "scale": {"domain": ["CW","CV","HW","HV"], "range": [17.3, 343], "paddingInner": 0, "paddingOuter": 0},
        "axis": {"orient": "top", "title": "pWAT", "domain": false, "ticks": false, "labels": false, "titleFont": "DejaVu Sans", "titleFontSize": 22, "titleFontWeight": "normal", "titleAngle": 0, "titleAlign": "center", "titleBaseline": "alphabetic", "titleX": 164.5, "titleY": 11}},
  "y": {"field": "upper", "type": "quantitative", "scale": {"domain": [0, 0.4], "range": [265, 3.4], "nice": false}, "title": "Weight (g)"}}},
{"mark": {"type": "text", "fontSize": 16, "baseline": "alphabetic", "dy": -5, "color": "black"},
 "encoding": {
  "x": {"field": "group", "type": "nominal", "scale": {"domain": ["CW","CV","HW","HV"], "range": [17.3, 343], "paddingInner": 0, "paddingOuter": 0},
        "axis": {"orient": "top", "title": "D", "domain": false, "ticks": false, "labels": false, "titleFont": "Liberation Serif", "titleFontSize": 28, "titleFontWeight": "normal", "titleAngle": 0, "titleAlign": "left", "titleBaseline": "alphabetic", "titleX": -48, "titleY": 10.7}},
  "y": {"field": "upper", "type": "quantitative", "scale": {"domain": [0, 0.4], "range": [265, 3.4], "nice": false}, "title": "Weight (g)"},
  "text": {"field": "sig"}}}
],
"resolve": {"axis": {"x": "independent"}}
}
],
"resolve": {"legend": {"shape": "independent"}, "scale": {"shape": "independent"}},
"config": {
 "view": {"stroke": null},
 "font": "DejaVu Sans",
 "axis": {"domainColor": "black", "domainWidth": 1.5, "tickColor": "black", "tickWidth": 1.5, "tickSize": 6, "labelColor": "black", "labelFontSize": 16, "labelFont": "DejaVu Sans", "titleFont": "DejaVu Sans", "titleFontSize": 17, "titleFontWeight": "normal", "titleColor": "black", "grid": false, "labelOverlap": false, "labelFlush": false, "labelBound": false}
}
}
